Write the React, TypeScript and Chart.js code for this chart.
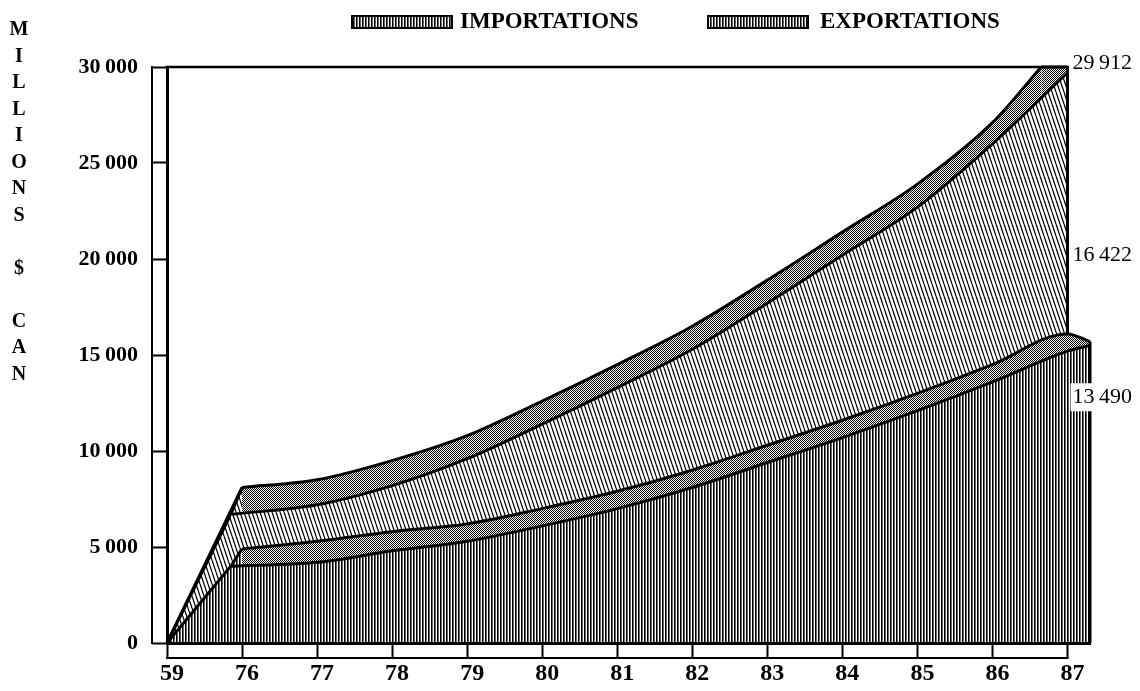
import React, { useEffect, useRef } from 'react';
import { Chart, registerables } from 'chart.js';

Chart.register(...registerables);

// Category labels (years) on the x axis
const YEARS = ['59', '76', '77', '78', '79', '80', '81', '82', '83', '84', '85', '86', '87'];

// Millions $ CAN for years 76..87 (59 = 0)
// Upper ribbon (imports stacked on exports): back edge and front edge of its top face
const TOTAL_BACK = [8100, 8500, 9500, 10800, 12600, 14500, 16500, 18900, 21400, 23900, 27100, 30000];
const TOTAL_FRONT = [6700, 7200, 8200, 9600, 11400, 13300, 15300, 17700, 20200, 22700, 26000, 29700];
// Lower ribbon (exports): back edge and front edge of its top face
const EXPORTS_BACK = [4900, 5300, 5800, 6200, 7000, 7900, 9000, 10300, 11600, 13000, 14500, 16100];
const EXPORTS_FRONT = [4000, 4200, 4800, 5300, 6100, 7000, 8100, 9400, 10700, 12100, 13600, 15200];
// end cap of the exports ribbon
const EXPORTS_BACK_END = 15700;
const EXPORTS_FRONT_END = 15500;

// Values written at the right end
const LABEL_TOTAL = 29912;
const LABEL_IMPORTS = 16422;
const LABEL_EXPORTS = 13490;

const Y_MAX = 30000;
const Y_STEP = 5000;
const LEGEND = ['IMPORTATIONS', 'EXPORTATIONS'];
const Y_TITLE = ['M', 'I', 'L', 'L', 'I', 'O', 'N', 'S', '', '$', '', 'C', 'A', 'N'];

// drawing constants (3D look, layout only)
const DEPTH = 0.3;
const SKEW = 0.15;
const TOP_CAP = 0.35;
const SERIF = '"Liberation Serif", "Times New Roman", serif';

const fmt = (v: number) => {
  if (v < 1000) return String(v);
  const th = Math.floor(v / 1000);
  const rest = String(v % 1000).padStart(3, '0');
  return `${th}\u2009${rest}`;
};

export default function App() {
  const ref = useRef<HTMLCanvasElement>(null);

  useEffect(() => {
    const canvas = ref.current!;
    const ctx0 = canvas.getContext('2d')!;
    const mk = (w: number, h: number, draw: (c: CanvasRenderingContext2D) => void) => {
      const t = document.createElement('canvas');
      t.width = w;
      t.height = h;
      const c = t.getContext('2d')!;
      c.fillStyle = '#fff';
      c.fillRect(0, 0, w, h);
      draw(c);
      return ctx0.createPattern(t, 'repeat')!;
    };
    const vHatch = mk(3, 1, (c) => {
      c.fillStyle = '#000';
      c.fillRect(0, 0, 1.6, 1);
    });
    const dHatch = mk(4, 12, (c) => {
      c.strokeStyle = '#000';
      c.lineWidth = 1.2;
      for (const x0 of [-4, 0, 4]) {
        c.beginPath();
        c.moveTo(x0, 0);
        c.lineTo(x0 + 4, 12);
        c.stroke();
      }
    });
    const stipple = mk(2, 2, (c) => {
      c.fillStyle = '#000';
      c.fillRect(0, 0, 1, 1);
      c.fillRect(1, 1, 1, 1);
    });

    const last = YEARS.length - 1;
    const curve = (vals: number[], startShift: number, end?: number) => {
      const pts = vals.map((v, i) => ({ x: i + 1 - (i === 0 ? startShift : 0), y: v }));
      if (end !== undefined) pts.push({ x: last + DEPTH, y: end });
      return pts;
    };
    // back edge of the upper ribbon reaches the frame a little before 87
    const topVal = TOTAL_BACK[TOTAL_BACK.length - 1];
    const backPts = curve(TOTAL_BACK, 0);
    backPts[backPts.length - 1] = { x: last - TOP_CAP, y: topVal };

    const base: any = {
      borderColor: '#000',
      borderWidth: 3,
      pointRadius: 0,
      fill: 'origin',
      borderJoinStyle: 'miter',
      borderCapStyle: 'butt',
      clip: false,
      tension: 0,
    };
    const smooth = { cubicInterpolationMode: 'monotone' };

    const datasets: any[] = [
      { ...base, label: 'side', data: [{ x: 0, y: 0 }, { x: 1, y: TOTAL_BACK[0] }], backgroundColor: dHatch, order: 42 },
      { ...base, ...smooth, label: 'totalBack', data: backPts, backgroundColor: stipple, order: 41 },
      {
        ...base,
        label: 'topCap',
        data: [{ x: last - TOP_CAP, y: topVal }, { x: last, y: topVal }],
        backgroundColor: stipple,
        order: 40,
      },
      {
        ...base,
        label: 'totalFrontSide',
        data: [{ x: 0, y: 0 }, { x: 1 - SKEW, y: TOTAL_FRONT[0] }, { x: 1, y: TOTAL_BACK[0] }],
        backgroundColor: dHatch,
        order: 31,
      },
      { ...base, ...smooth, label: 'totalFront', data: curve(TOTAL_FRONT, SKEW), backgroundColor: dHatch, order: 30 },
      {
        ...base,
        fill: false,
        label: 'importsEdge',
        data: [{ x: last, y: topVal }, { x: last, y: EXPORTS_BACK[last - 1] }],
        order: 29,
      },
      { ...base, ...smooth, label: 'exportsBack', data: curve(EXPORTS_BACK, 0, EXPORTS_BACK_END), backgroundColor: stipple, order: 20 },
      {
        ...base,
        label: 'exportsSide',
        data: [{ x: 0, y: 0 }, { x: 1 - SKEW, y: EXPORTS_FRONT[0] }, { x: 1, y: EXPORTS_BACK[0] }],
        backgroundColor: vHatch,
        order: 11,
      },
      { ...base, ...smooth, label: 'exportsFront', data: curve(EXPORTS_FRONT, SKEW, EXPORTS_FRONT_END), backgroundColor: vHatch, order: 10 },
      {
        ...base,
        fill: false,
        label: 'exportsEdge',
        data: [{ x: last + DEPTH, y: EXPORTS_BACK_END }, { x: last + DEPTH, y: 0 }],
        order: 9,
      },
    ];

    const deco = {
      id: 'deco',
      afterDraw(chart: any) {
        const { ctx, scales, chartArea } = chart;
        const x = scales.x;
        const y = scales.y;
        ctx.save();
        ctx.strokeStyle = '#000';
        ctx.lineCap = 'square';
        // top frame line
        ctx.lineWidth = 2.5;
        ctx.beginPath();
        ctx.moveTo(x.getPixelForValue(0), y.getPixelForValue(Y_MAX));
        ctx.lineTo(x.getPixelForValue(last), y.getPixelForValue(Y_MAX));
        ctx.stroke();
        // axis strips (outer lines)
        ctx.lineWidth = 2;
        ctx.beginPath();
        ctx.moveTo(chartArea.left - 15, y.getPixelForValue(Y_MAX));
        ctx.lineTo(chartArea.left - 15, y.getPixelForValue(0));
        ctx.stroke();
        ctx.beginPath();
        ctx.moveTo(x.getPixelForValue(0), chartArea.bottom + 15);
        ctx.lineTo(x.getPixelForValue(last), chartArea.bottom + 15);
        ctx.stroke();

        // value labels at the right end
        ctx.fillStyle = '#000';
        ctx.font = `22px ${SERIF}`;
        ctx.textBaseline = 'middle';
        ctx.textAlign = 'left';
        const lx = x.getPixelForValue(last) + 5;
        ctx.fillText(fmt(LABEL_TOTAL), lx, y.getPixelForValue(Y_MAX) - 4);
        ctx.fillText(fmt(LABEL_IMPORTS), lx, y.getPixelForValue(20200));
        const ey = y.getPixelForValue(12800);
        const ew = ctx.measureText(fmt(LABEL_EXPORTS)).width;
        ctx.fillStyle = '#fff';
        ctx.fillRect(lx - 2, ey - 14, ew + 6, 28);
        ctx.fillStyle = '#000';
        ctx.fillText(fmt(LABEL_EXPORTS), lx, ey);

        // legend
        ctx.font = `bold 23px ${SERIF}`;
        const items = [
          { sx: 344, tx: 452 },
          { sx: 700, tx: 812 },
        ];
        items.forEach((it, i) => {
          ctx.fillStyle = vHatch;
          ctx.fillRect(it.sx, 8, 100, 12);
          ctx.lineWidth = 2;
          ctx.strokeRect(it.sx, 8, 100, 12);
          ctx.fillStyle = '#000';
          ctx.fillText(LEGEND[i], it.tx, 14);
        });

        // vertical y-axis title
        ctx.font = `bold 20px ${SERIF}`;
        ctx.textAlign = 'center';
        Y_TITLE.forEach((ch, i) => {
          if (ch) ctx.fillText(ch, 11, 22 + i * 26.5);
        });
        ctx.restore();
      },
    };

    const chart = new Chart(canvas, {
      type: 'line',
      data: { datasets },
      options: {
        animation: false,
        responsive: true,
        maintainAspectRatio: false,
        events: [],
        layout: { padding: { top: 59, right: 42, left: 0, bottom: 0 } },
        plugins: { legend: { display: false }, tooltip: { enabled: false } },
        scales: {
          x: {
            type: 'linear',
            min: 0,
            max: last + DEPTH,
            afterFit: (a: any) => {
              a.height = 40;
            },
            ticks: {
              stepSize: 1,
              includeBounds: false,
              autoSkip: false,
              maxRotation: 0,
              callback: (v: any) => YEARS[v] ?? '',
              font: { family: SERIF, size: 24, weight: 'bold' },
              color: '#000',
              padding: 1,
              labelOffset: 5,
            },
            grid: { drawOnChartArea: false, drawTicks: true, tickLength: 15, tickWidth: 2, tickColor: '#000' },
            border: { display: true, color: '#000', width: 3, z: 1 },
          },
          y: {
            min: 0,
            max: Y_MAX,
            afterFit: (a: any) => {
              a.width = 159;
            },
            ticks: {
              stepSize: Y_STEP,
              callback: (v: any) => fmt(Number(v)),
              font: { family: SERIF, size: 22, weight: 'bold' },
              color: '#000',
              padding: 14,
            },
            grid: { drawOnChartArea: false, drawTicks: true, tickLength: 15, tickWidth: 2, tickColor: '#000' },
            border: { display: true, color: '#000', width: 3, z: 1 },
          },
        },
      },
      plugins: [deco],
    });
    return () => chart.destroy();
  }, []);

  return (
    <div style={{ width: 1124, height: 675, position: 'relative' }}>
      <canvas ref={ref} />
    </div>
  );
}
